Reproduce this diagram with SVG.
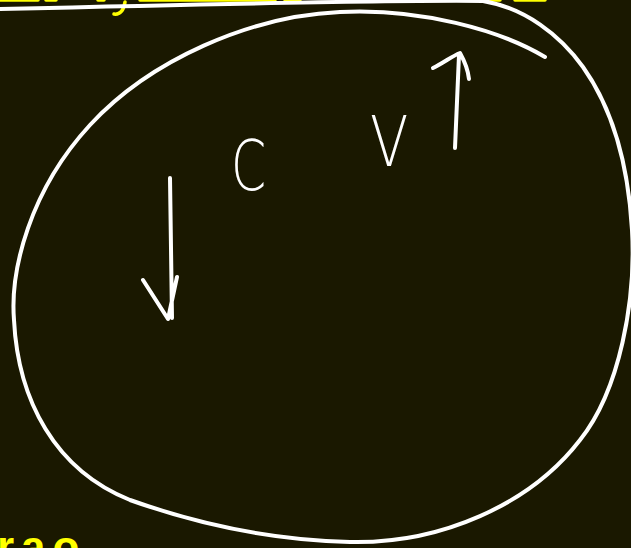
<svg xmlns="http://www.w3.org/2000/svg" width="631" height="548" viewBox="0 0 631 548">
<style>
.ink{fill:none;stroke:#ffffff;stroke-width:4;stroke-linecap:round;stroke-linejoin:round}
.yel{fill:none;stroke:#ffff00;stroke-width:3.5;stroke-linecap:round;stroke-linejoin:round}
.lbl{fill:#ffffff;font-family:"DejaVu Sans",sans-serif;font-weight:200;font-size:70px}
.ytxt{fill:#ffff00;font-family:"Liberation Sans",sans-serif;font-weight:bold;font-size:44px;letter-spacing:7px}
</style>
<rect width="631" height="548" fill="#1a1800"/>
<g id="yellow-notes">
<path class="yel" d="M0,0 L38,0 M46,0 L56,0 M98,0 L104,0 M125,2 C124,10 120,15 114,14"/>
<path class="yel" d="M140,0 L275,0 M285,0 L300,0 M420,-1 L470,-1 M482,0 L500,0 M515,0 L545,0"/>
<text class="ytxt" x="-3" y="562">rao</text>
</g>
<g id="loop">
<path class="ink" d="M545,57 C500,30 420,8 340,12 C250,16 150,60 90,125 C30,190 10,270 14,320 C18,400 55,470 130,500 C200,525 270,540 350,542 C440,544 530,505 580,440 C620,390 636,300 632,230 C628,160 610,105 583,67 C560,35 525,8 483,1 C400,0 250,3 0,9"/>
</g>
<g id="connectors">
<path class="ink" d="M170,178 L172,318 M143,280 L168,319 L177,277"/>
<path class="ink" d="M455,148 L459,55 M433,68 C445,62 452,56 460,53 C465,62 468,70 469,79"/>
</g>
<g id="label-C"><text class="lbl" x="231" y="190" transform="translate(231,0) scale(0.72,1) translate(-231,0)">C</text></g>
<g id="label-V"><text class="lbl" x="370" y="166" transform="translate(370,0) scale(0.8,1) translate(-370,0)">V</text></g>
</svg>
